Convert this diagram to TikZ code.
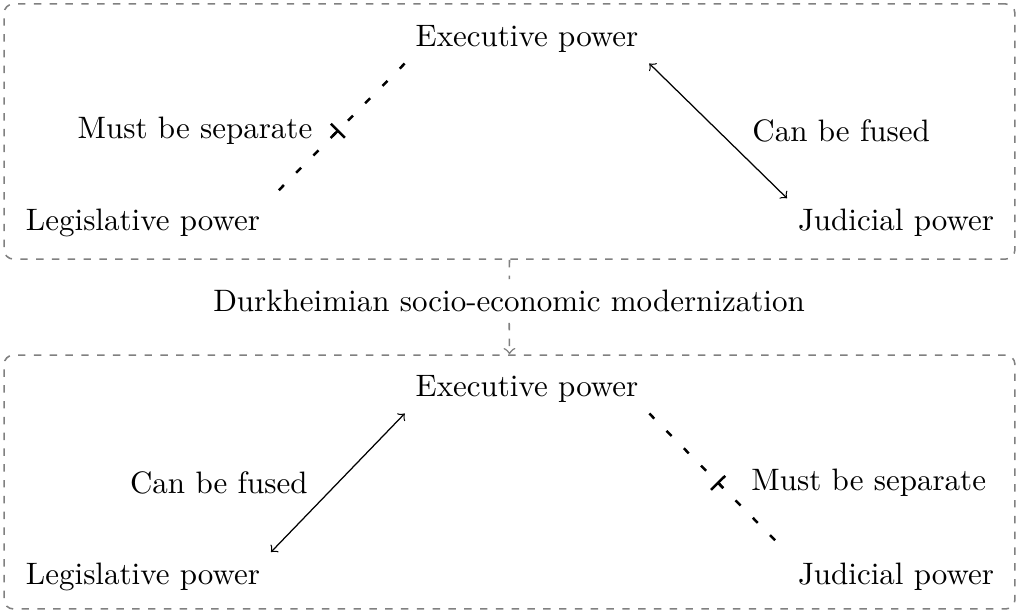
\documentclass[tikz,border=0pt]{standalone}
\usetikzlibrary{decorations.markings}
\begin{document}
\begin{tikzpicture}[x=0.3226pt,y=-0.3226pt,
  lbl/.style={inner sep=3.33pt},
  framebox/.style={draw=gray,line width=0.5pt,dash pattern=on 2.4pt off 2.7pt,rounded corners=3pt,minimum width=326.1pt,inner sep=0pt},
  sepline/.style={line width=0.8pt,dash pattern=on 2.3pt off 5.6pt,
    postaction={decorate,decoration={markings,mark=at position 0.5 with {\draw[solid,line width=0.8pt] (0,-3.2pt)--(0,3.2pt); \draw[solid,line width=0.8pt] (0,0)--(2.4pt,0);}}}},
  fuseline/.style={<->,line width=0.4pt},
  flow/.style={->,draw=gray,line width=0.5pt,dash pattern=on 2.4pt off 2.7pt}]
\useasboundingbox (0,0) rectangle (1018,613);
% frames
\node[framebox,minimum height=82.3pt] (topbox) at (509.5,131.5) {};
\node[framebox,minimum height=81.9pt] (botbox) at (509.5,482) {};
% top diagram
\node[lbl] (E1) at (527,39) {Executive power};
\node[lbl] (L1) at (143,223) {Legislative power};
\node[lbl] (J1) at (896,223) {Judicial power};
\draw[sepline] (E1.south west) -- node[midway,left=4.5pt] (s1) {Must be separate} (L1.north east);
\draw[fuseline] (E1.south east) -- node[midway,right=7.5pt] (f1) {Can be fused} (J1.north west);
% middle
\node[lbl] (D) at (509,301) {Durkheimian socio-economic modernization};
\draw[flow] (topbox.south) -- (D) -- (botbox.north);
% bottom diagram
\node[lbl] (E2) at (527,389) {Executive power};
\node[lbl] (L2) at (143,577) {Legislative power};
\node[lbl] (J2) at (896,577) {Judicial power};
\draw[fuseline] (E2.south west) -- node[midway,left=6.2pt] (f2) {Can be fused} (L2.north east);
\draw[sepline] (E2.south east) -- node[midway,right=7pt] (s2) {Must be separate} (J2.north west);
\end{tikzpicture}
\end{document}
